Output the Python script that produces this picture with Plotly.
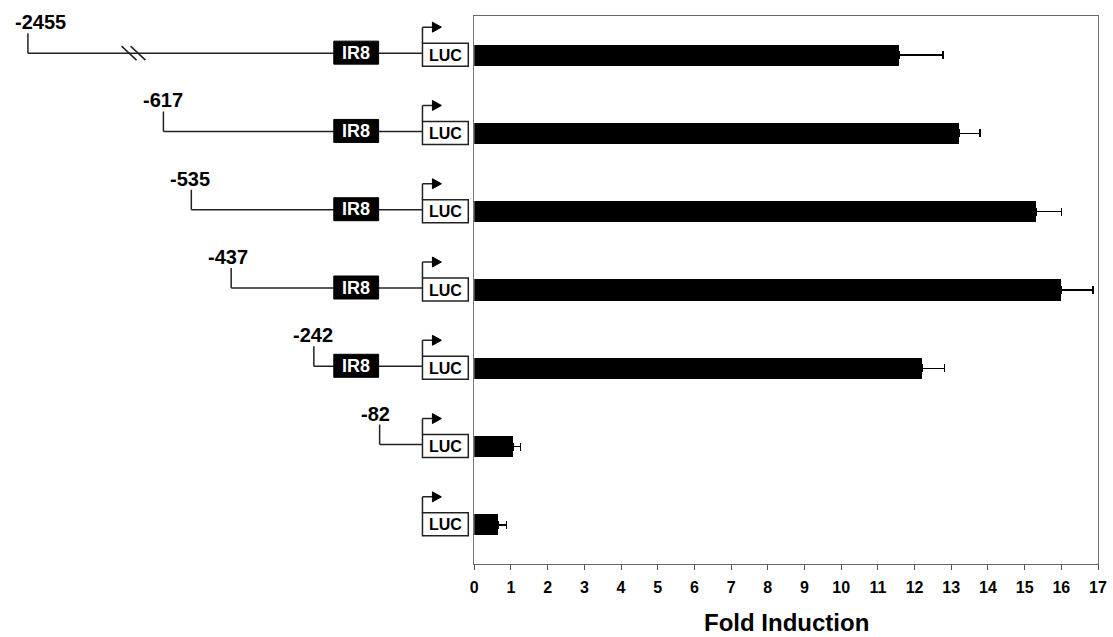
import plotly.graph_objects as go

# ---- data ----
constructs = ["-2455", "-617", "-535", "-437", "-242", "-82", ""]
fold_induction = [11.57, 13.22, 15.32, 15.99, 12.22, 1.06, 0.65]
fold_error = [1.20, 0.56, 0.68, 0.88, 0.60, 0.20, 0.23]
has_ir8 = [True, True, True, True, True, False, False]
x_ticks = list(range(0, 18))

# ---- diagram layout (pixel-like units on hidden axis x2) ----
start_px = [24, 160, 188, 228, 311, 377, None]
label_px = [37, 160, 187, 225, 310, 373, None]
IR8_L, IR8_R = 331, 376
LUC_L, LUC_R = 420, 466
PX_PER_ROW = 78.29

FONT = "Liberation Sans, Arial, Helvetica, sans-serif"
rows = list(range(len(constructs)))

def yy(i, dpx):
    return i + dpx / PX_PER_ROW

fig = go.Figure()
fig.add_trace(go.Bar(
    x=fold_induction, y=rows, orientation="h", width=0.27,
    marker=dict(color="black", line=dict(width=0)),
    error_x=dict(type="data", symmetric=False, array=fold_error,
                 arrayminus=[0] * len(rows), color="black",
                 thickness=1.5, width=4),
    showlegend=False, hoverinfo="x",
))

shapes = []
annotations = []
LC = "#222222"
for i in rows:
    s = start_px[i]
    ly = yy(i, -2)
    if s is not None:
        end = IR8_L if has_ir8[i] else LUC_L
        shapes.append(dict(type="line", xref="x2", yref="y", x0=s, x1=s,
                           y0=yy(i, -22), y1=ly, line=dict(color=LC, width=1.5)))
        shapes.append(dict(type="line", xref="x2", yref="y", x0=s, x1=end,
                           y0=ly, y1=ly, line=dict(color=LC, width=1.5)))
        annotations.append(dict(x=label_px[i], y=yy(i, -33), xref="x2", yref="y",
                                text=constructs[i], showarrow=False,
                                font=dict(family=FONT, size=20, color="black", weight="bold"),
                                xanchor="center", yanchor="middle"))
    if has_ir8[i]:
        shapes.append(dict(type="rect", xref="x2", yref="y", x0=IR8_L, x1=IR8_R,
                           y0=yy(i, -14), y1=yy(i, 9), fillcolor="black",
                           line=dict(color="black", width=1)))
        shapes.append(dict(type="line", xref="x2", yref="y", x0=IR8_R, x1=LUC_L,
                           y0=ly, y1=ly, line=dict(color=LC, width=1.5)))
        annotations.append(dict(x=(IR8_L + IR8_R) / 2, y=yy(i, -2.5), xref="x2", yref="y",
                                text="IR8", showarrow=False,
                                font=dict(family=FONT, size=18, color="white", weight="bold"),
                                xanchor="center", yanchor="middle"))
    # LUC box
    shapes.append(dict(type="rect", xref="x2", yref="y", x0=LUC_L, x1=LUC_R,
                       y0=yy(i, -12), y1=yy(i, 11), fillcolor="white",
                       line=dict(color=LC, width=1.5)))
    annotations.append(dict(x=(LUC_L + LUC_R) / 2, y=yy(i, 0), xref="x2", yref="y",
                            text="LUC", showarrow=False,
                            font=dict(family=FONT, size=16, color="black", weight="bold"),
                            xanchor="center", yanchor="middle"))
    # promoter arrow
    shapes.append(dict(type="line", xref="x2", yref="y", x0=LUC_L, x1=LUC_L,
                       y0=yy(i, -12), y1=yy(i, -28), line=dict(color=LC, width=1.5)))
    shapes.append(dict(type="line", xref="x2", yref="y", x0=LUC_L, x1=431,
                       y0=yy(i, -28), y1=yy(i, -28), line=dict(color=LC, width=1.5)))
    shapes.append(dict(type="path", xref="x2", yref="y",
                       path=f"M 430 {yy(i, -33)} L 439 {yy(i, -28)} L 430 {yy(i, -23)} Z",
                       fillcolor="black", line=dict(color="black", width=1)))

# break marks on the longest construct
for x0 in (118, 127):
    shapes.append(dict(type="line", xref="x2", yref="y", x0=x0, x1=x0 + 15,
                       y0=yy(0, -9), y1=yy(0, 5), line=dict(color=LC, width=1.5)))

annotations.append(dict(x=0.5, y=-0.1065, xref="x domain", yref="paper",
                        text="Fold Induction", showarrow=False,
                        font=dict(family=FONT, size=24, color="black", weight="bold"),
                        xanchor="center", yanchor="middle"))

W, H = 1113, 637
split = 472 / 1098
fig.update_layout(
    width=W, height=H,
    margin=dict(l=0, r=15, t=16, b=H - 564),
    paper_bgcolor="white", plot_bgcolor="white",
    bargap=0,
    xaxis=dict(domain=[split, 1], range=[0, 17], tickvals=x_ticks,
               ticks="outside", ticklen=5, tickcolor="#555",
               ticklabelstandoff=4,
               showline=True, linecolor="#666", linewidth=1, mirror=True,
               showgrid=False, zeroline=False,
               tickfont=dict(family=FONT, size=16, color="black", weight="bold"),
               anchor="y"),
    xaxis2=dict(domain=[0, split], range=[0, 472], visible=False,
                anchor="y", fixedrange=True),
    yaxis=dict(range=[6.5, -0.5], showticklabels=False, ticks="",
               showline=True, linecolor="#777", linewidth=1, mirror=True,
               showgrid=False, zeroline=False, anchor="x"),
    shapes=shapes,
    annotations=annotations,
)

# remove the default page margin so the figure sits at the window's top-left
fig.write_html("out.html",
               config={"displayModeBar": False},
               post_script="document.body.style.margin='0';document.body.style.overflow='hidden';")
